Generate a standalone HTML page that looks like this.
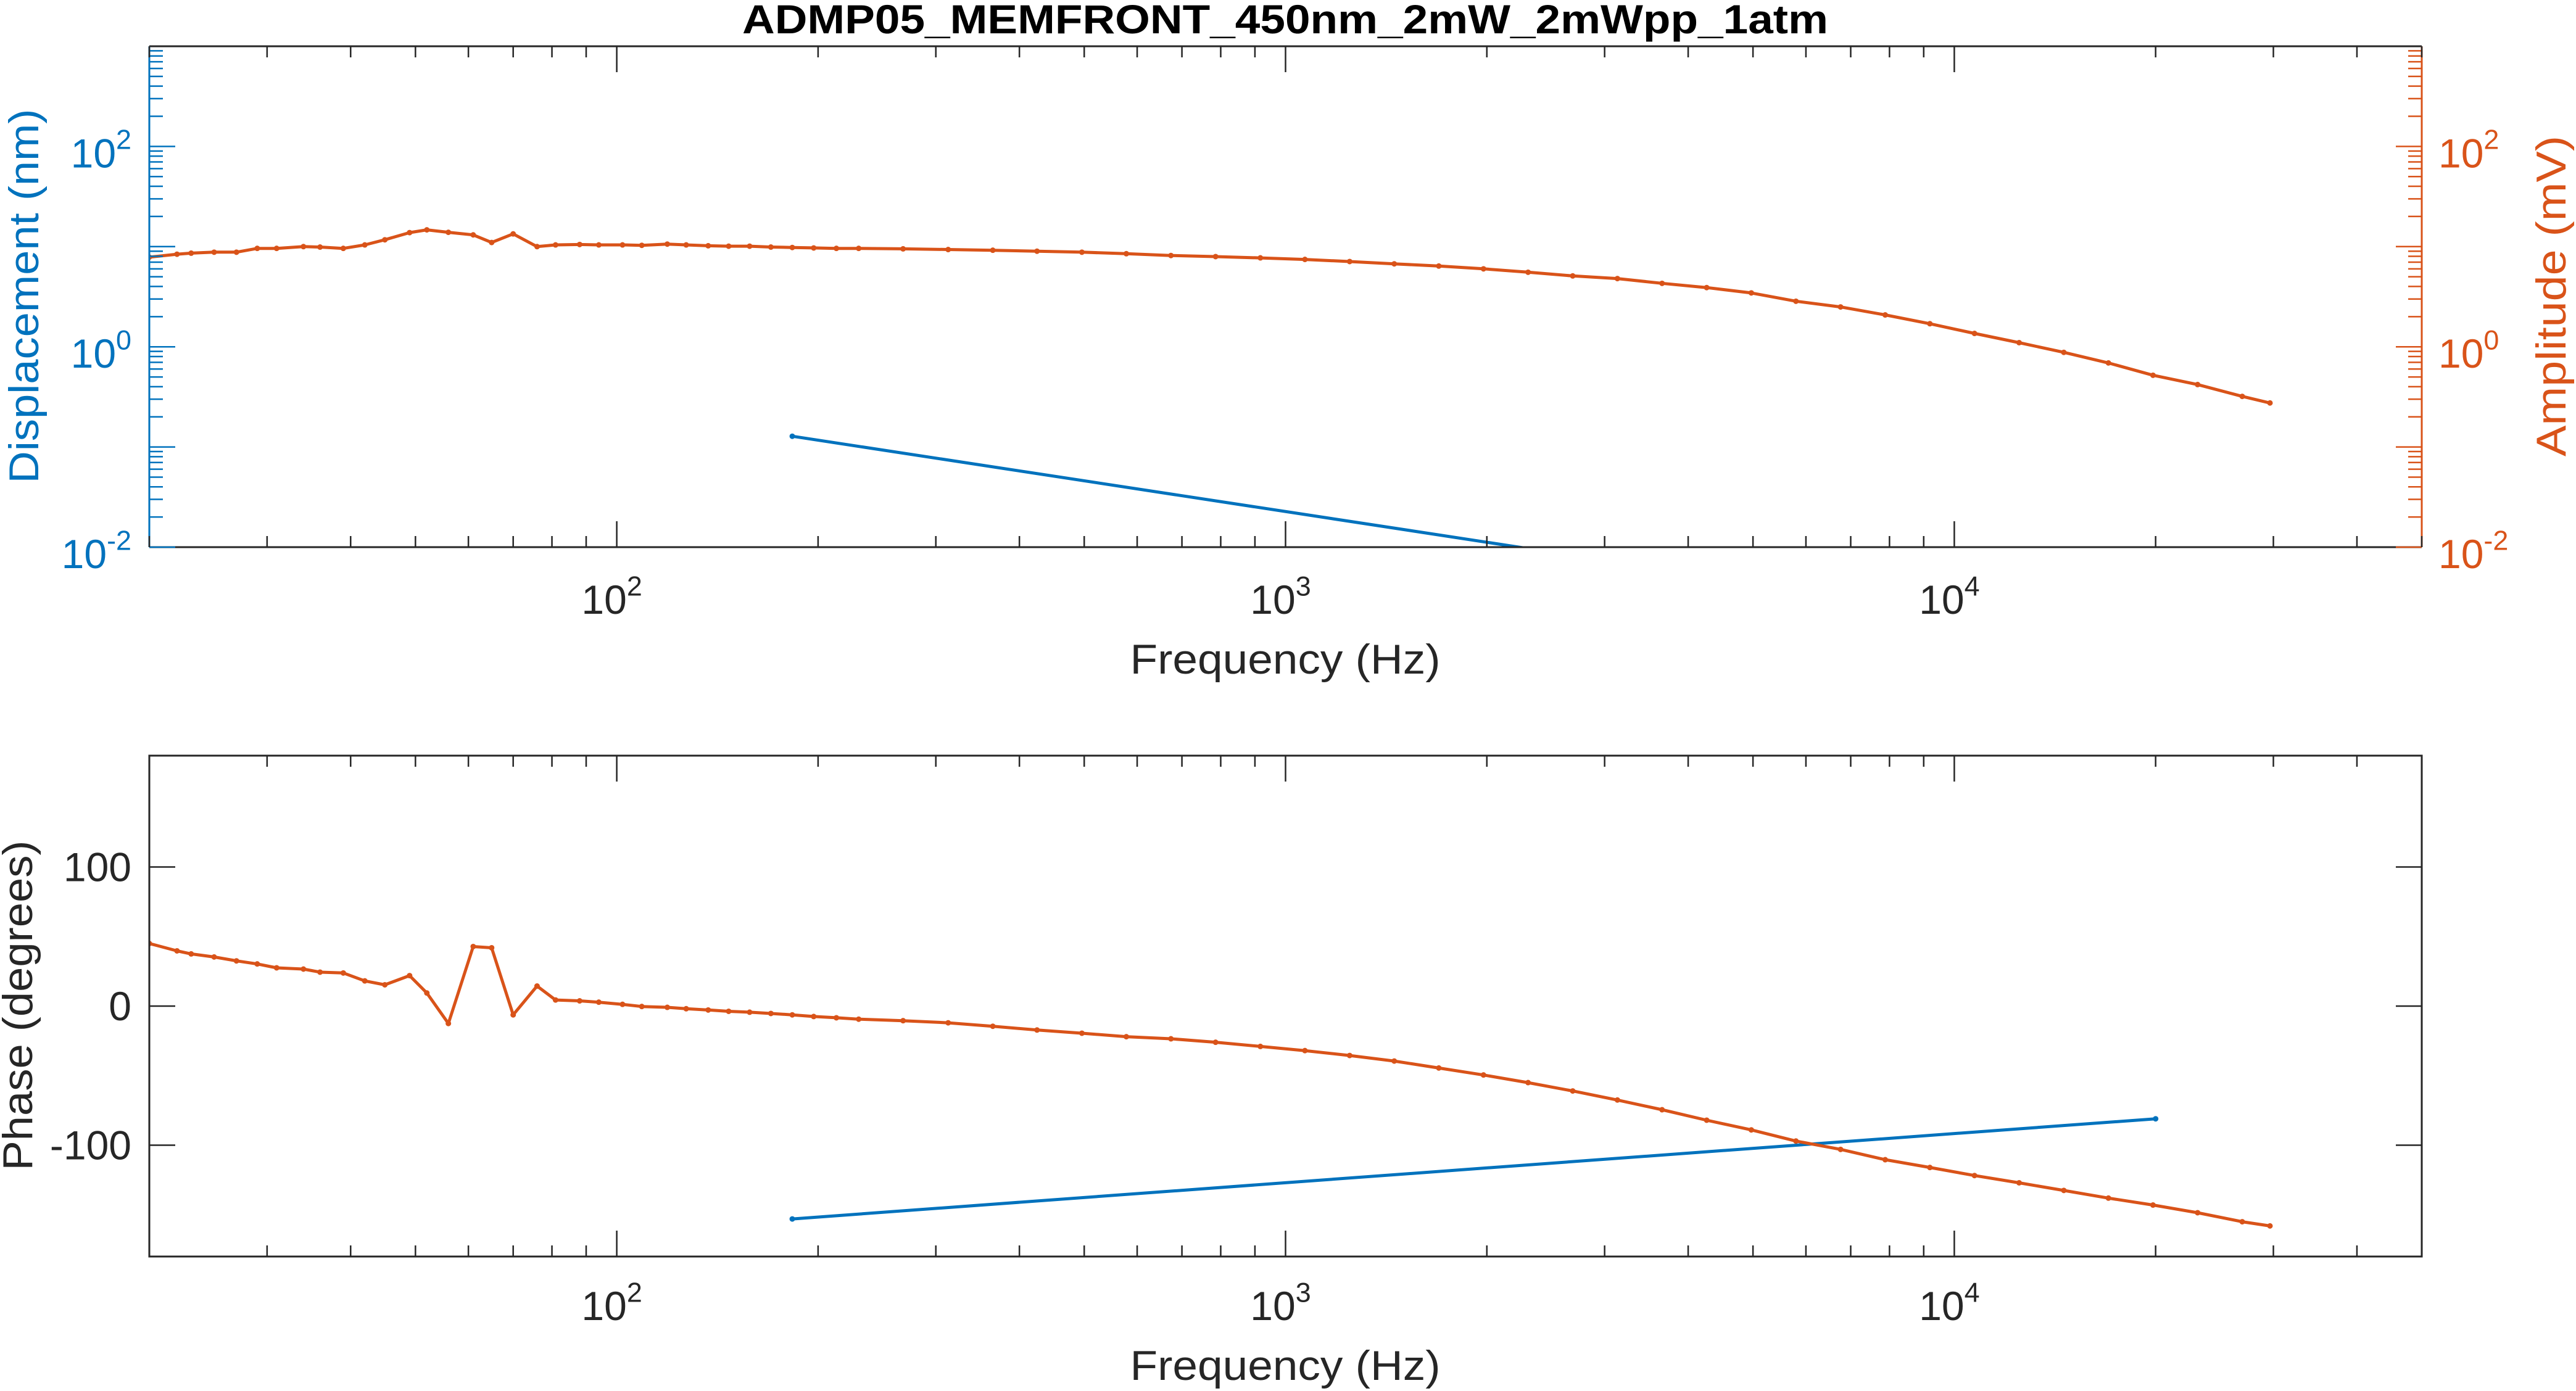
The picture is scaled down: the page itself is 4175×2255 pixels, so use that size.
<!DOCTYPE html>
<html><head><meta charset="utf-8"><style>
html,body{margin:0;padding:0;background:#fff;}
svg{display:block;font-family:"Liberation Sans",Arial,sans-serif;}
</style></head><body>
<svg id="chart" width="4175" height="2255" viewBox="0 0 4175 2255" xmlns="http://www.w3.org/2000/svg">
<defs>
<clipPath id="clipTop"><rect x="242" y="75" width="3683" height="812"/></clipPath>
<clipPath id="clipBot"><rect x="242" y="1225" width="3683" height="812"/></clipPath>
</defs>
<rect width="4175" height="2255" fill="#fff"/>
<text x="2083" y="54" text-anchor="middle" font-size="66" font-weight="bold" fill="#000" textLength="1760" lengthAdjust="spacingAndGlyphs">ADMP05_MEMFRONT_450nm_2mW_2mWpp_1atm</text>
<g id="gTop"></g>
<g id="gBot"></g>
</svg>
<script>
// ---- data ----
const ampFreq = [20,22,23.1,25,27,29,31,34,36,39,42,45,49,52,56,61,65,70,76,81,88,94,102,109,119,127,137,147,158,170,183,197,213,230,
268,313,365,425,496,578,674,786,917,1069,1247,1454,1695,1977,2305,2688,3135,3656,4263,4971,5797,6760,7883,9193,10720,12500,14580,17000,19820,23110,26950,29650];
const ampValues = [7.85,8.4,8.6,8.8,8.8,9.6,9.6,10,9.9,9.6,10.4,11.7,13.8,14.7,13.9,13.1,11,13.4,10,10.4,10.5,10.4,10.4,10.3,10.6,10.4,10.2,10.1,10.1,9.9,9.8,9.7,9.6,9.6,
9.5,9.35,9.2,9.0,8.8,8.5,8.15,7.95,7.72,7.45,7.1,6.73,6.4,6.0,5.55,5.1,4.8,4.3,3.9,3.45,2.85,2.5,2.08,1.7,1.36,1.1,0.88,0.69,0.52,0.42,0.32,0.275];
const phaseValues = [45,39.7,37.5,35.3,32.5,30.3,27.5,26.6,24.4,23.8,18.1,15.3,21.9,9.4,-12.5,42.8,41.9,-6.3,14.4,4.4,3.75,2.8,1.25,-0.3,-0.9,-1.9,-2.8,-3.75,-4.4,-5.3,-6.3,-7.5,-8.4,-9.4,
-10.5,-12,-14.5,-17.2,-19.5,-22,-23.5,-26,-29,-32,-35.5,-39.5,-44.5,-49.5,-55,-61,-67.5,-74.5,-82,-89,-97,-103,-110.4,-116,-121.8,-127,-132.5,-138,-143,-148.5,-155,-158];
const dispFreq = [183,20000];
const dispValues = [0.128,0.00107];
const dispPhase = [-153,-81];
const xTicks = [100,1000,10000];
const xTickExp = ["2","3","4"];
const yLogTicks = [0.01,1,100];
const yLogExp = ["-2","0","2"];
const phaseTicks = [-100,0,100];
const phaseTickLabels = ["-100","0","100"];

// ---- geometry ----
const L=242,R=3925,T1=75,B1=887,T2=1225,B2=2037;
const xMin=20,xMax=50000, yMin=0.01,yMax=1000, pMin=-180,pMax=180;
const BLUE="#0072BD", ORANGE="#D95319", AX="#262626";
const FS=66;
const NS="http://www.w3.org/2000/svg";
function xS(f){return L+(Math.log10(f)-Math.log10(xMin))/(Math.log10(xMax)-Math.log10(xMin))*(R-L);}
function yLog(v){return B1-(Math.log10(v)-Math.log10(yMin))/(Math.log10(yMax)-Math.log10(yMin))*(B1-T1);}
function yPh(v){return B2-(v-pMin)/(pMax-pMin)*(B2-T2);}
function mk(tag,attrs,parent){const e=document.createElementNS(NS,tag);for(const k in attrs)e.setAttribute(k,attrs[k]);parent.appendChild(e);return e;}
function line(p,x1,y1,x2,y2,c,w){return mk('line',{x1:x1,y1:y1,x2:x2,y2:y2,stroke:c,'stroke-width':w},p);}
function pow10(p,x,y,exp,anchor,color,fs){
  const t=mk('text',{x:x,y:y,'text-anchor':anchor,'font-size':fs,fill:color},p);
  t.appendChild(document.createTextNode('10'));
  const s=mk('tspan',{dy:-fs*0.45,'font-size':fs*0.68},t);
  s.textContent=exp;
  return t;
}
const gTop=document.getElementById('gTop'), gBot=document.getElementById('gBot');

function xAxis(g,T,B,labelY,titleY){
  for(let d=10;d<=10000;d*=10){
    for(let m=1;m<10;m++){
      const f=d*m; if(f<xMin||f>xMax) continue;
      const x=xS(f), len=(m===1)?42:18;
      line(g,x,B,x,B-len,AX,2.5); line(g,x,T,x,T+len,AX,2.5);
    }
  }
  xTicks.forEach((f,i)=>{
    const t=pow10(g,xS(f)-8,labelY,xTickExp[i],'middle',AX,FS);
    
    
  });
  const xt=mk('text',{x:2083,y:titleY,'text-anchor':'middle','font-size':68,fill:AX,textLength:503,lengthAdjust:'spacingAndGlyphs'},g);
  xt.textContent='Frequency (Hz)';
  
  
}
function series(g,clip,xs,ys,yf,color,name){
  const gg=mk('g',{'clip-path':'url(#'+clip+')'},g);
  
  
  const pts=xs.map((f,i)=>xS(f).toFixed(1)+','+yf(ys[i]).toFixed(1)).join(' ');
  mk('polyline',{points:pts,fill:'none',stroke:color,'stroke-width':5,'stroke-linejoin':'round'},gg);
  xs.forEach((f,i)=>{
    const c=mk('circle',{cx:xS(f),cy:yf(ys[i]),r:4.5,fill:color},gg);
    
    
  });
}

// ---- top axes ----
series(gTop,'clipTop',dispFreq,dispValues,yLog,BLUE,'displacement-line');
series(gTop,'clipTop',ampFreq,ampValues,yLog,ORANGE,'amplitude-line');
line(gTop,L,T1,R,T1,AX,3); line(gTop,L,B1,R,B1,AX,3);
line(gTop,L,T1,L,B1,BLUE,3); line(gTop,R,T1,R,B1,ORANGE,3);
for(let d=0.01;d<1000;d*=10){
  for(let m=1;m<10;m++){
    const v=d*m; if(v>yMax*1.0001) continue;
    const y=yLog(v), len=(m===1)?42:22;
    line(gTop,L,y,L+len,y,BLUE,2.5); line(gTop,R,y,R-len,y,ORANGE,2.5);
  }
}
yLogTicks.forEach((v,i)=>{
  const a=pow10(gTop,213,yLog(v)+34,yLogExp[i],'end',BLUE,FS);
  
  
  const b=pow10(gTop,3952,yLog(v)+34,yLogExp[i],'start',ORANGE,FS);
  
  
});
xAxis(gTop,T1,B1,995,1092);
const yl=mk('text',{x:0,y:0,transform:'translate(62,480) rotate(-90)','text-anchor':'middle','font-size':68,fill:BLUE,textLength:607,lengthAdjust:'spacingAndGlyphs'},gTop);
yl.textContent='Displacement (nm)';


const yr=mk('text',{x:0,y:0,transform:'translate(4158,480) rotate(-90)','text-anchor':'middle','font-size':68,fill:ORANGE,textLength:520,lengthAdjust:'spacingAndGlyphs'},gTop);
yr.textContent='Amplitude (mV)';



// ---- bottom axes ----
series(gBot,'clipBot',dispFreq,dispPhase,yPh,BLUE,'displacement-phase-line');
series(gBot,'clipBot',ampFreq,phaseValues,yPh,ORANGE,'amplitude-phase-line');
mk('rect',{x:L,y:T2,width:R-L,height:B2-T2,fill:'none',stroke:AX,'stroke-width':3},gBot);
phaseTicks.forEach((v,i)=>{
  const y=yPh(v);
  line(gBot,L,y,L+42,y,AX,2.5); line(gBot,R,y,R-42,y,AX,2.5);
  const t=mk('text',{x:213,y:y+23,'text-anchor':'end','font-size':FS,fill:AX},gBot);
  t.textContent=phaseTickLabels[i];
  
  
});
xAxis(gBot,T2,B2,2140,2237);
const pl=mk('text',{x:0,y:0,transform:'translate(52,1630) rotate(-90)','text-anchor':'middle','font-size':68,fill:AX,textLength:535,lengthAdjust:'spacingAndGlyphs'},gBot);
pl.textContent='Phase (degrees)';


</script>
</body></html>
